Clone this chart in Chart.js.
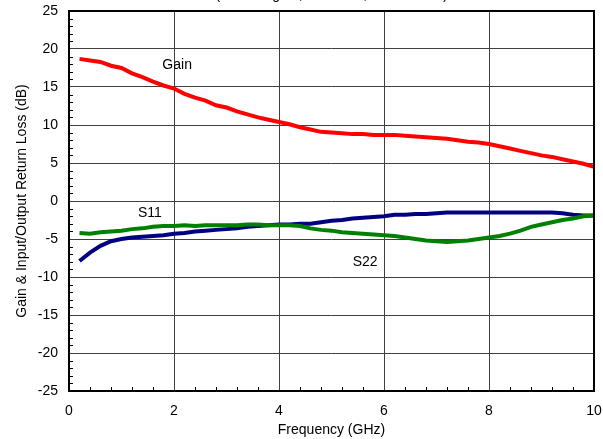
<!DOCTYPE html>
<html>
<head>
<meta charset="utf-8">
<script src="https://cdn.jsdelivr.net/npm/chart.js@4"></script>
<style>
  html, body { margin: 0; padding: 0; background: #fff; }
  #wrap { width: 603px; height: 439px; }
</style>
</head>
<body>
<div id="wrap"><canvas id="myChart" width="603" height="439"></canvas></div>
<script>
// frequency points (GHz)
var freqs = [0.2, 0.4, 0.6, 0.8, 1.0, 1.2, 1.4, 1.6, 1.8, 2.0,
             2.2, 2.4, 2.6, 2.8, 3.0, 3.2, 3.4, 3.6, 3.8, 4.0,
             4.2, 4.4, 4.6, 4.8, 5.0, 5.2, 5.4, 5.6, 5.8, 6.0,
             6.2, 6.4, 6.6, 6.8, 7.0, 7.2, 7.4, 7.6, 7.8, 8.0,
             8.2, 8.4, 8.6, 8.8, 9.0, 9.2, 9.4, 9.6, 9.8, 10.0];

var gain = [18.7, 18.5, 18.3, 17.8, 17.5, 16.8, 16.3, 15.7, 15.2, 14.8,
            14.1, 13.6, 13.2, 12.6, 12.3, 11.8, 11.4, 11.0, 10.7, 10.4,
            10.1, 9.7, 9.4, 9.1, 9.0, 8.9, 8.8, 8.8, 8.7, 8.7,
            8.7, 8.6, 8.5, 8.4, 8.3, 8.2, 8.0, 7.8, 7.7, 7.5,
            7.2, 6.9, 6.6, 6.3, 6.0, 5.8, 5.5, 5.2, 4.9, 4.5];

var s11 = [-4.2, -4.3, -4.1, -4.0, -3.9, -3.7, -3.6, -3.4, -3.3, -3.3,
           -3.2, -3.3, -3.2, -3.2, -3.2, -3.2, -3.1, -3.1, -3.2, -3.2,
           -3.2, -3.3, -3.6, -3.8, -3.9, -4.1, -4.2, -4.3, -4.4, -4.5,
           -4.6, -4.8, -5.0, -5.2, -5.3, -5.4, -5.3, -5.2, -5.0, -4.8,
           -4.6, -4.3, -3.9, -3.4, -3.1, -2.8, -2.5, -2.3, -2.0, -1.9];

var s22 = [-7.9, -6.8, -5.9, -5.3, -5.0, -4.8, -4.7, -4.6, -4.5, -4.3,
           -4.2, -4.0, -3.9, -3.8, -3.7, -3.6, -3.4, -3.3, -3.2, -3.1,
           -3.1, -3.0, -3.0, -2.8, -2.6, -2.5, -2.3, -2.2, -2.1, -2.0,
           -1.8, -1.8, -1.7, -1.7, -1.6, -1.5, -1.5, -1.5, -1.5, -1.5,
           -1.5, -1.5, -1.5, -1.5, -1.5, -1.5, -1.6, -1.8, -1.9, -1.9];

// curve labels: text, x (GHz), y (dB)
var noteText = ["Gain", "S11", "S22"];
var noteX = [2.06, 1.54, 5.64];
var noteY = [17.9, -1.6, -8.0];

var titleText = "(Small-Signal, Vdd = 5V, Idd = 80mA)";

function pts(ys) {
    return freqs.map(function (f, i) { return { x: f, y: ys[i] }; });
}

var FONT = 'Arial, "Liberation Sans", sans-serif';

var frame = {
    id: 'frame',
    afterDraw: function (chart) {
        var ctx = chart.ctx, a = chart.chartArea;
        var xs = chart.scales.x, ys = chart.scales.y;
        ctx.save();
        // minor ticks inside the plot
        ctx.strokeStyle = '#000';
        ctx.lineWidth = 1;
        ctx.beginPath();
        for (var v = -25; v <= 25; v += 1) {
            if (v % 5 === 0) continue;
            var py = Math.round(ys.getPixelForValue(v)) + 0.5;
            ctx.moveTo(a.left, py); ctx.lineTo(a.left + 4, py);
        }
        for (var k = 0; k <= 25; k++) {
            if (k % 5 === 0) continue;
            var px = Math.round(xs.getPixelForValue(k * 0.4)) + 0.5;
            ctx.moveTo(px, a.bottom); ctx.lineTo(px, a.bottom - 4);
        }
        ctx.stroke();
        // thick frame
        ctx.lineWidth = 2;
        ctx.strokeRect(a.left, a.top, a.right - a.left, a.bottom - a.top);
        // curve labels
        ctx.fillStyle = '#000';
        ctx.font = '14px ' + FONT;
        ctx.textAlign = 'center';
        ctx.textBaseline = 'middle';
        for (var i = 0; i < noteText.length; i++) {
            ctx.fillText(noteText[i], xs.getPixelForValue(noteX[i]), ys.getPixelForValue(noteY[i]));
        }
        // title, cut off by the top edge
        ctx.textBaseline = 'alphabetic';
        ctx.fillText(titleText, (a.left + a.right) / 2, -1);
        ctx.restore();
    }
};

var ctx = document.getElementById('myChart').getContext('2d');
var chart = new Chart(ctx, {
    type: 'line',
    data: {
        datasets: [{
            label: 'Gain',
            data: pts(gain),
            borderColor: '#ff0000',
            borderWidth: 4,
            pointRadius: 0,
            tension: 0
        }, {
            label: 'S11',
            data: pts(s11),
            borderColor: '#008000',
            borderWidth: 4,
            pointRadius: 0,
            tension: 0
        }, {
            label: 'S22',
            data: pts(s22),
            borderColor: '#000080',
            borderWidth: 4,
            pointRadius: 0,
            tension: 0
        }]
    },
    options: {
        responsive: false,
        animation: false,
        layout: { padding: { top: 11, right: 9, left: 0, bottom: 0 } },
        plugins: { legend: { display: false }, tooltip: { enabled: false } },
        scales: {
            x: {
                type: 'linear',
                min: 0, max: 10,
                ticks: { stepSize: 2, color: '#000', padding: 12, font: { size: 14, family: FONT } },
                grid: { color: '#404040', lineWidth: 1, drawTicks: false },
                border: { display: false },
                title: { display: true, text: 'Frequency (GHz)', color: '#000', padding: { top: 0, bottom: 0 }, font: { size: 14, family: FONT } },
                afterFit: function (s) {
                    s.height = 48;
                    s.paddingLeft = 0; s.paddingRight = 0;
                }
            },
            y: {
                min: -25, max: 25,
                ticks: { stepSize: 5, color: '#000', padding: 11, font: { size: 14, family: FONT } },
                grid: { color: '#404040', lineWidth: 1, drawTicks: false },
                border: { display: false },
                title: { display: true, text: 'Gain & Input/Output Return Loss (dB)', color: '#000', padding: { top: 14, bottom: 4 }, font: { size: 14, family: FONT } },
                afterFit: function (s) {
                    s.width = 69;
                    s.paddingTop = 0; s.paddingBottom = 0;
                }
            }
        }
    },
    plugins: [frame]
});
</script>
</body>
</html>
